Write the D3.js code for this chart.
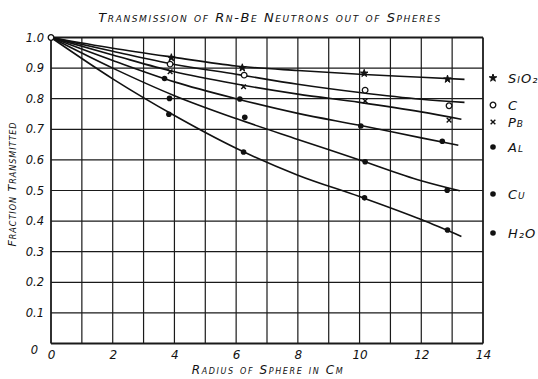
<!DOCTYPE html>
<html><head><meta charset="utf-8">
<script src="https://cdn.jsdelivr.net/npm/d3@7"></script>
<style>
body{margin:0;background:#fff;}
svg text{font-family:"DejaVu Sans","Liberation Sans",sans-serif;font-style:italic;fill:#111;}
</style>
</head><body>
<svg id="chart" width="538" height="379"></svg>
<script>
// ---- data ----
const materials = ["SiO₂", "C", "Pb", "Al", "Cu", "H₂O"];
const markers   = ["star", "open", "x", "dot", "dot", "dot"];
const legendY   = [78, 105, 122, 147, 194, 233];

// measured points (radius cm, fraction transmitted)
const originR = [0];
const originV = [1.0];
const siO2R = [3.9, 6.2, 10.15, 12.85];
const siO2V = [0.934, 0.901, 0.883, 0.864];
const cR  = [3.86, 6.26, 10.18, 12.9];
const cV  = [0.913, 0.877, 0.828, 0.777];
const pbR = [3.86, 6.24, 10.18, 12.9];
const pbV = [0.888, 0.839, 0.793, 0.730];
const alR = [3.68, 6.12, 10.04, 12.68];
const alV = [0.866, 0.799, 0.711, 0.661];
const cuR = [3.84, 6.28, 10.18, 12.84];
const cuV = [0.801, 0.739, 0.594, 0.501];
const h2oR = [3.82, 6.24, 10.16, 12.85];
const h2oV = [0.749, 0.626, 0.476, 0.371];

// hand-drawn fitted curves
const siO2CurveR = [0, 2, 4, 6, 8, 10, 12, 13.4];
const siO2CurveV = [1, 0.965, 0.935, 0.907, 0.892, 0.880, 0.870, 0.863];
const cCurveR  = [0, 2, 4, 6, 8, 10, 12, 13.4];
const cCurveV  = [1, 0.955, 0.912, 0.880, 0.847, 0.820, 0.798, 0.788];
const pbCurveR = [0, 2, 4, 6, 8, 10, 12, 13.3];
const pbCurveV = [1, 0.943, 0.888, 0.848, 0.815, 0.788, 0.757, 0.733];
const alCurveR = [0, 2, 4, 6, 8, 10, 12, 13.2];
const alCurveV = [1, 0.925, 0.855, 0.800, 0.752, 0.713, 0.672, 0.648];
const cuCurveR = [0, 2, 4, 6, 8, 10, 12, 13.25];
const cuCurveV = [1, 0.900, 0.810, 0.735, 0.667, 0.600, 0.532, 0.499];
const h2oCurveR = [0, 2, 4, 6, 8, 10, 12, 13.3];
const h2oCurveV = [1, 0.865, 0.745, 0.638, 0.550, 0.480, 0.405, 0.350];

const xTickValues = [0, 2, 4, 6, 8, 10, 12, 14];
const xTickLabels = ["0", "2", "4", "6", "8", "10", "12", "14"];
const yTickValues = [0, 0.1, 0.2, 0.3, 0.4, 0.5, 0.6, 0.7, 0.8, 0.9, 1.0];
const yTickLabels = ["0", "0.1", "0.2", "0.3", "0.4", "0.5", "0.6", "0.7", "0.8", "0.9", "1.0"];

const titleText = "Transmission of Rn-Be Neutrons out of Spheres";
const xTitle = "Radius of Sphere in Cm";
const yTitle = "Fraction Transmitted";

// ---- build ----
const pointSets = [[siO2R, siO2V], [cR, cV], [pbR, pbV], [alR, alV], [cuR, cuV], [h2oR, h2oV]];
const curveSets = [[siO2CurveR, siO2CurveV], [cCurveR, cCurveV], [pbCurveR, pbCurveV],
                   [alCurveR, alCurveV], [cuCurveR, cuCurveV], [h2oCurveR, h2oCurveV]];

const svg = d3.select("#chart");
const x = d3.scaleLinear().domain([0, 14]).range([51, 483]);
const y = d3.scaleLinear().domain([0, 1]).range([343.5, 37.5]);

// grid
const g = svg.append("g");
g.selectAll("line.v").data(d3.range(0, 15)).join("line")
  .attr("x1", d => x(d)).attr("x2", d => x(d))
  .attr("y1", y(0)).attr("y2", y(1))
  .attr("stroke", "#1a1a1a").attr("stroke-width", d => (d === 0 || d === 14) ? 1.8 : 1.2);
g.selectAll("line.h").data(d3.range(0, 11).map(i => i / 10)).join("line")
  .attr("x1", x(0)).attr("x2", x(14))
  .attr("y1", d => y(d)).attr("y2", d => y(d))
  .attr("stroke", "#1a1a1a").attr("stroke-width", d => (d === 0 || d === 1) ? 1.8 : 1.2);

// axes tick labels
const xAxis = d3.axisBottom(x).tickValues(xTickValues)
  .tickFormat((d, i) => xTickLabels[i]).tickSize(0).tickPadding(7);
const xa = svg.append("g").attr("transform", `translate(0,${y(0)})`).call(xAxis);
xa.select(".domain").remove();
xa.selectAll("text").attr("font-size", 12).attr("font-family", "DejaVu Sans").attr("font-style", "italic");

const yAxis = d3.axisLeft(y).tickValues(yTickValues)
  .tickFormat((d, i) => yTickLabels[i]).tickSize(0).tickPadding(7);
const ya = svg.append("g").attr("transform", `translate(${x(0)},0)`).call(yAxis);
ya.select(".domain").remove();
ya.selectAll("text").attr("font-size", 11.5).attr("font-family", "DejaVu Sans").attr("font-style", "italic");
ya.selectAll(".tick").filter(d => d === 0).select("text").attr("dx", -6).attr("dy", "0.9em");

// curves
const line = d3.line().x(d => x(d[0])).y(d => y(d[1])).curve(d3.curveMonotoneX);
svg.append("g").selectAll("path").data(curveSets).join("path")
  .attr("d", s => line(s[0].map((r, i) => [r, s[1][i]])))
  .attr("fill", "none").attr("stroke", "#111").attr("stroke-width", 1.6);

// markers
function drawMarker(sel, type) {
  if (type === "dot") {
    sel.append("circle").attr("r", 2.8).attr("fill", "#111");
  } else if (type === "open") {
    sel.append("circle").attr("r", 2.8).attr("fill", "#fff").attr("stroke", "#111").attr("stroke-width", 1.3);
  } else if (type === "x") {
    sel.append("path").attr("d", d3.symbol(d3.symbolX, 16)()).attr("fill", "none")
      .attr("stroke", "#111").attr("stroke-width", 1.4);
  } else if (type === "star") {
    sel.append("path").attr("d", d3.symbol(d3.symbolStar, 18)()).attr("fill", "#111")
      .attr("stroke", "#111").attr("stroke-width", 1);
  }
}
pointSets.forEach((s, k) => {
  s[0].forEach((r, i) => {
    const m = svg.append("g").attr("transform", `translate(${x(r)},${y(s[1][i])})`);
    drawMarker(m, markers[k]);
  });
});
originR.forEach((r, i) => {
  const m = svg.append("g").attr("transform", `translate(${x(r)},${y(originV[i])})`);
  drawMarker(m, "open");
});

// legend
materials.forEach((name, k) => {
  const lg = svg.append("g").attr("transform", `translate(493,${legendY[k]})`);
  drawMarker(lg, markers[k]);
  lg.append("text").attr("x", 15).attr("y", 5).attr("font-size", 13)
    .style("font-variant", "small-caps").style("letter-spacing", "1px").text(name);
});

// titles
svg.append("text").attr("x", 270).attr("y", 22).attr("text-anchor", "middle")
  .attr("font-size", 13).style("font-variant", "small-caps").style("letter-spacing", "1.6px").text(titleText);
svg.append("text").attr("x", 268).attr("y", 374).attr("text-anchor", "middle")
  .attr("font-size", 12).style("font-variant", "small-caps").style("letter-spacing", "1.6px").text(xTitle);
svg.append("text").attr("transform", "translate(16,184) rotate(-90)").attr("text-anchor", "middle")
  .attr("font-size", 11).style("font-variant", "small-caps").style("letter-spacing", "1px").text(yTitle);
</script>
</body></html>
